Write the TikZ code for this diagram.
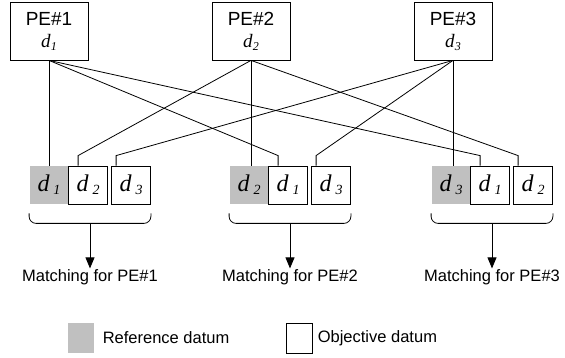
\documentclass[tikz,border=0pt]{standalone}
\usepackage{fontspec}
\setmainfont{Liberation Sans}
\newfontfamily\tnr{Liberation Serif}
\usetikzlibrary{arrows.meta,positioning,calc}
\definecolor{refgray}{HTML}{C0C0C0}
\newcommand\pesub[1]{{\tnr\itshape d\kern0.3pt\raisebox{-3pt}{\fontsize{12}{12}\selectfont #1}}}
\newcommand\dsub[1]{{\tnr\itshape d\kern4pt\raisebox{-3pt}{\fontsize{14}{14}\selectfont #1}}}

\begin{document}
\begin{tikzpicture}[x=1pt,y=1pt,line width=0.8pt,>={Triangle[width=9pt,length=11pt]},
  pe/.style={draw,minimum width=78pt,minimum height=58pt,inner sep=0pt,align=center,font=\fontsize{19}{22}\selectfont},
  refd/.style={fill=refgray,minimum width=39pt,minimum height=38pt,inner sep=0pt,font=\fontsize{24}{24}\selectfont},
  objd/.style={refd,fill=white,draw},
  lab/.style={font=\fontsize{16.5}{20}\selectfont,inner sep=1pt}]
  \useasboundingbox (0,0) rectangle (565,358);
  % processing elements
  \node[pe] (pe1) at (49,327) {PE\#1\\\pesub{1}};
  \node[pe] (pe2) at (251,327) {PE\#2\\\pesub{2}};
  \node[pe] (pe3) at (453,327) {PE\#3\\\pesub{3}};
  % data gathered at each PE, brace and result
  \foreach \g/\x/\a/\b/\c in {1/49/1/2/3,2/249/2/1/3,3/451/3/1/2} {
    \node[refd] (g\g a) at (\x,173) {\dsub{\a}};
    \node[objd] (g\g b) at (\x+39,173) {\dsub{\b}};
    \node[objd] (g\g c) at (\x+82,173) {\dsub{\c}};
    \draw[rounded corners=7pt] ($(g\g a.south west)+(0,-9)$) -- ($(g\g a.south west)+(0,-19)$)
      -- ($(g\g c.south east)+(0,-19)$) -- ($(g\g c.south east)+(0,-9)$);
    \coordinate (br\g) at ($(g\g a.south west)!0.5!(g\g c.south east)+(0,-19)$);
    \node[lab,anchor=north] (m\g) at ($(br\g)+(0,-45)$) {Matching for PE\#\g};
    \draw[->] (br\g) -- (m\g);
    \draw (pe\g.south) -- (pe\g.south |- g\g a.north);
  }
  % each PE sends its datum to the others
  \foreach \s/\t/\o in {1/2b/10,1/3b/10,2/1b/10,2/3c/5,3/1c/5,3/2c/5}
    \draw (pe\s.south) -- ($(g\t.north west)+(\o,10)$) -- ($(g\t.north west)+(\o,0)$);
  % legend
  \node[refd,minimum width=26pt,minimum height=30pt] (lgref) at (81,20) {};
  \node[lab,right=7pt of lgref] (lgreft) {Reference datum};
  \node[objd,minimum width=26pt,minimum height=30pt] (lgobj) at (299,20) {};
  \node[lab,right=4pt of lgobj] (lgobjt) {Objective datum};
\end{tikzpicture}
\end{document}
